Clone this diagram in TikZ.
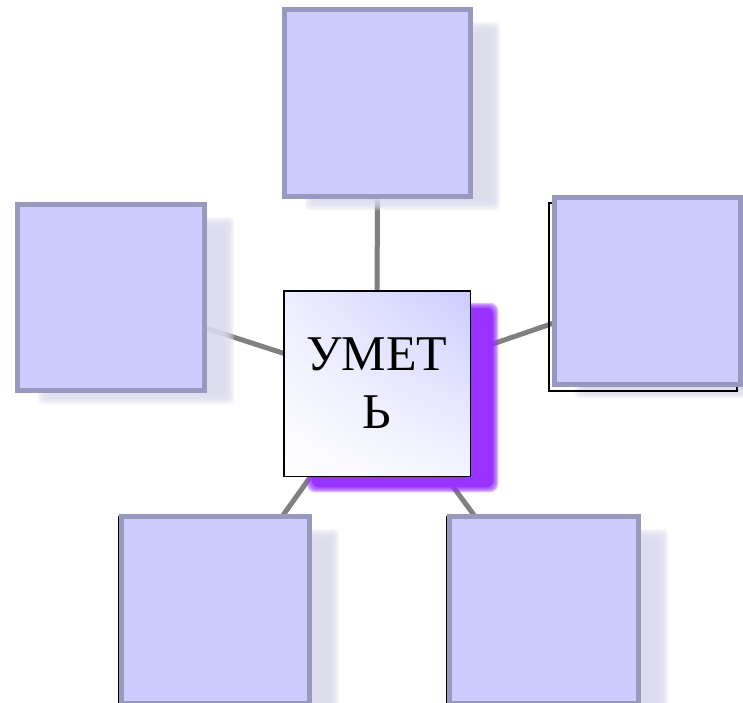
\documentclass[tikz,border=0pt]{standalone}
\usepackage{fontspec}
\setmainfont{Liberation Serif}
\usetikzlibrary{calc,shadings}
\definecolor{boxfill}{RGB}{204,204,255}
\definecolor{boxline}{RGB}{153,153,192}
\definecolor{connc}{RGB}{128,128,128}
\definecolor{purp}{RGB}{153,51,255}
\definecolor{shad}{RGB}{218,218,236}
\pgfdeclarelayer{lines}
\pgfdeclarelayer{bg}
\pgfsetlayers{lines,bg,main}
\begin{document}
\begin{tikzpicture}[x=1pt,y=-1pt,
  palebox/.style={draw=boxline, fill=boxfill, line width=5pt, inner sep=0pt, outer sep=0pt},
  centerbox/.style={draw=black, line width=1.5pt, inner sep=0pt, outer sep=0pt,
    minimum width=186.5pt, minimum height=185.5pt, align=center,
    shade, upper right=boxfill, lower left=white,
    upper left=boxfill!35!white, lower right=boxfill!20!white,
    font=\fontsize{50}{58}\selectfont},
  connector/.style={draw=connc, line width=5pt},
  outline/.style={draw=black, line width=1.3pt}]
\useasboundingbox (0,0) rectangle (743,702);

% outlines behind some boxes
\draw[outline] (549,203) rectangle (737,391);
\draw[outline] (119,517) rectangle (310,720);
\draw[outline] (447,517) rectangle (638,720);

\node[palebox, minimum width=186pt, minimum height=187pt] (t) at (377.5,103) {};
\node[palebox, minimum width=187pt, minimum height=186pt] (l) at (111,297.5) {};
\node[palebox, minimum width=186pt, minimum height=187pt] (r) at (647.5,291) {};
\node[palebox, minimum width=188pt, minimum height=187pt] (bl) at (215.5,610) {};
\node[palebox, minimum width=189pt, minimum height=187pt] (br) at (544,610) {};
\node[centerbox] (c) at (377,383.5) {УМЕТ\\Ь};

\begin{pgfonlayer}{lines}
  \foreach \n in {t,l,r,bl,br}
    \draw[connector] (c.center) -- (\n.center);
\end{pgfonlayer}

\begin{pgfonlayer}{bg}
  \foreach \n in {t,l,r,bl,br}
    \foreach \k in {0,...,7}
      \fill[shad, opacity=0.28, rounded corners=4pt]
        ($(\n.north west)+(31-1.5*\k,23-1.5*\k)$) rectangle ($(\n.south east)+(19+1.5*\k,3+1.5*\k)$);
  \foreach \k in {0,...,4}
    \fill[purp, opacity=0.3, rounded corners=8pt]
      ($(c.north west)+(27-\k,16-\k)$) rectangle ($(c.south east)+(24+\k,12+\k)$);
  \fill[purp, rounded corners=7pt]
      ($(c.north west)+(28,17)$) rectangle ($(c.south east)+(23,11)$);
\end{pgfonlayer}
\end{tikzpicture}
\end{document}
